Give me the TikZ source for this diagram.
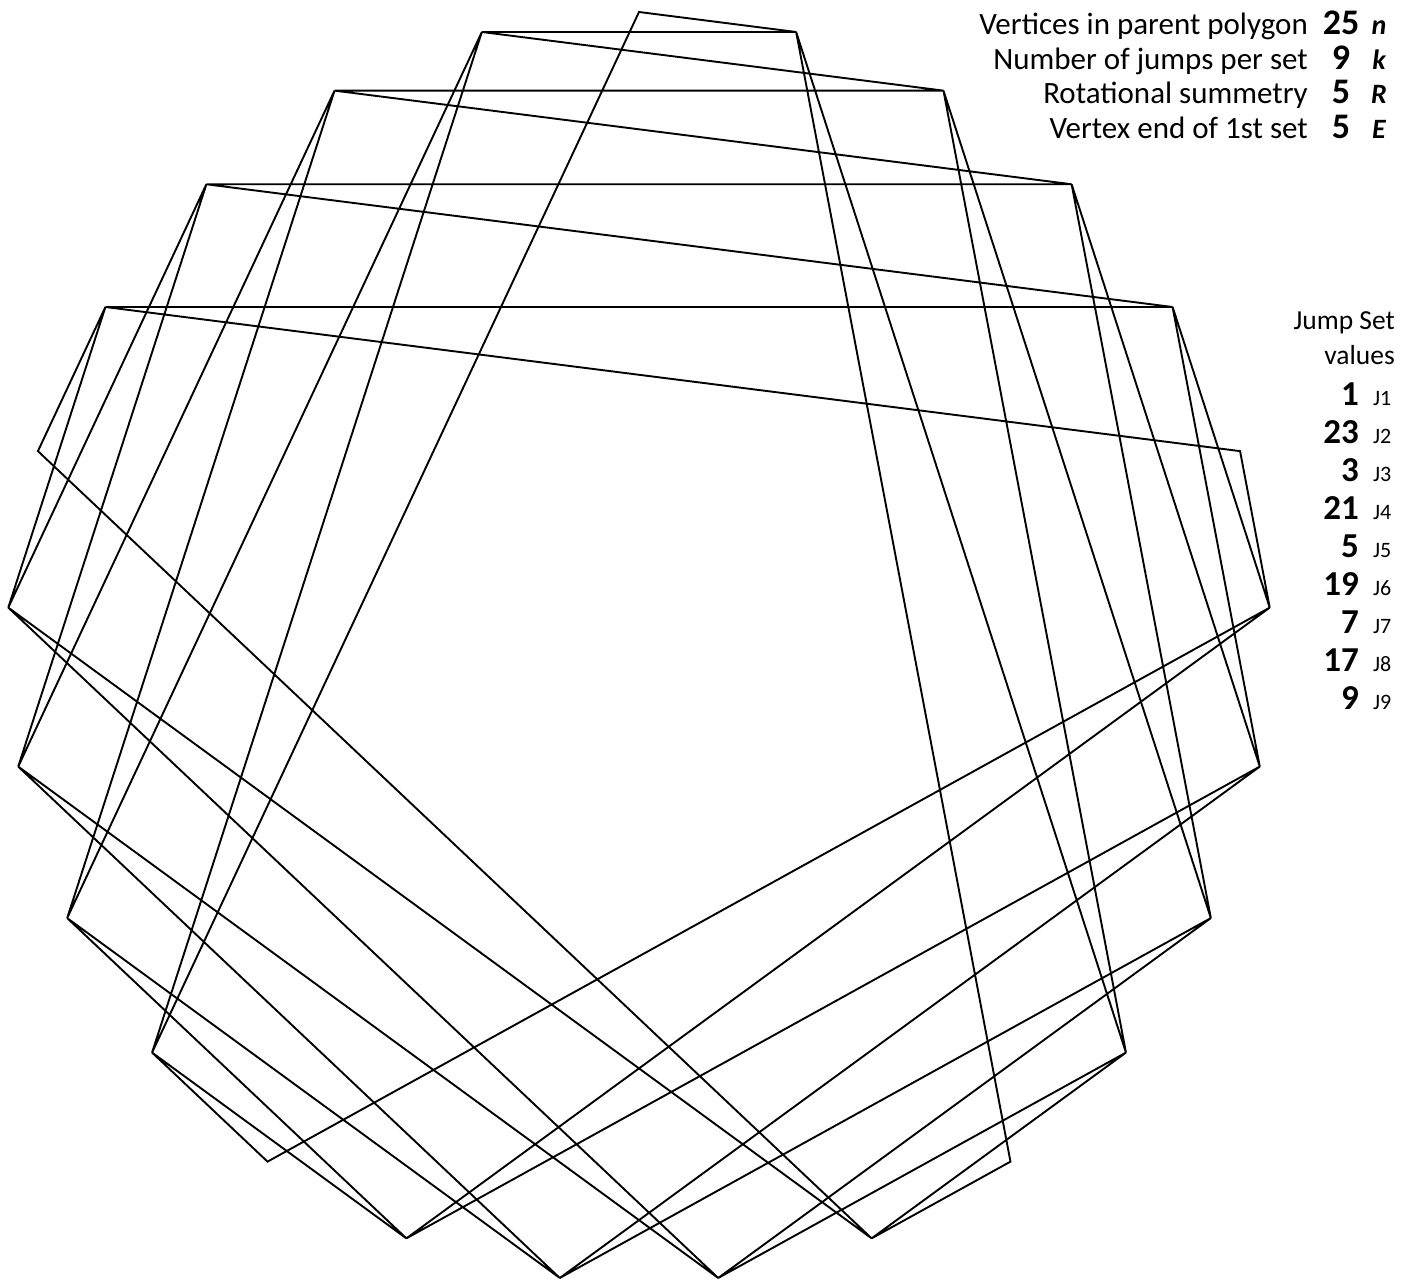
\documentclass[tikz,border=0pt]{standalone}
\usepackage{fontspec}
\setmainfont{Carlito}
\begin{document}
\begin{tikzpicture}[x=1pt,y=-1pt,
  star/.style={line width=1.9pt,line join=miter,draw=black},
  lbl/.style={inner sep=0pt,anchor=base east,font=\fontsize{31}{37}\selectfont},
  bignum/.style={inner sep=0pt,anchor=base,font=\fontsize{36}{42}\selectfont\bfseries},
  sym/.style={inner sep=0pt,anchor=base,font=\fontsize{28}{34}\selectfont\bfseries\itshape},
  jhead/.style={inner sep=0pt,anchor=base east,font=\fontsize{27.5}{33}\selectfont},
  jnum/.style={inner sep=0pt,anchor=base east,font=\fontsize{35}{41}\selectfont\bfseries},
  jlab/.style={inner sep=0pt,anchor=base west,font=\fontsize{22}{26}\selectfont}]
\useasboundingbox (0,0) rectangle (1418,1279);
% parent polygon vertices
\foreach \i in {0,...,24}{
  \coordinate (v\i) at ({639+632*cos(90-14.4*\i)},{647.5-635.5*sin(90-14.4*\i)});
}
% star path: 5 sets of jumps 1,23,3,21,5,19,7,17,9
\draw[star] (v0)--(v1)--(v24)--(v2)--(v23)--(v3)--(v22)--(v4)--(v21)--(v5)
  --(v6)--(v4)--(v7)--(v3)--(v8)--(v2)--(v9)--(v1)--(v10)
  --(v11)--(v9)--(v12)--(v8)--(v13)--(v7)--(v14)--(v6)--(v15)
  --(v16)--(v14)--(v17)--(v13)--(v18)--(v12)--(v19)--(v11)--(v20)
  --(v21)--(v19)--(v22)--(v18)--(v23)--(v17)--(v24)--(v16)--cycle;
% parameters
\node[lbl] (l1) at (1308,35) {Vertices in parent polygon};
\node[lbl] (l2) at (1308,69.5) {Number of jumps per set};
\node[lbl] (l3) at (1308,104) {Rotational summetry};
\node[lbl] (l4) at (1308,138.5) {Vertex end of 1st set};
\node[bignum] (n1) at (1341,35) {25};
\node[bignum] (n2) at (1341,69.5) {9};
\node[bignum] (n3) at (1341,104) {5};
\node[bignum] (n4) at (1341,138.5) {5};
\node[sym] (s1) at (1379,35) {n};
\node[sym] (s2) at (1379,69.5) {k};
\node[sym] (s3) at (1379,104) {R};
\node[sym] (s4) at (1379,138.5) {E};
% jump set values
\node[jhead] (jh1) at (1395,329) {Jump Set};
\node[jhead] (jh2) at (1395,364) {values};
\foreach \v [count=\c] in {1,23,3,21,5,19,7,17,9}{
  \node[jnum] (jn\c) at (1359,{405+38.1*(\c-1)}) {\v};
  \node[jlab] (jl\c) at (1373,{405+38.1*(\c-1)}) {J\c};
}
\end{tikzpicture}
\end{document}
